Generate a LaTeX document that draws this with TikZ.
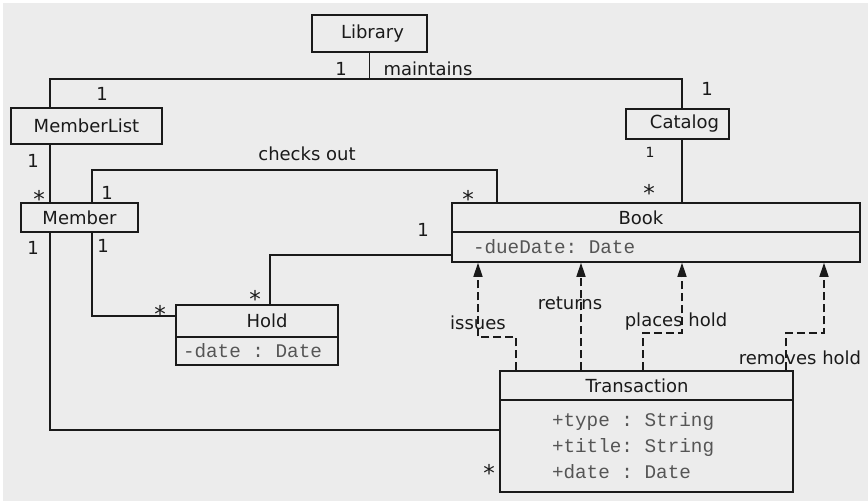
\documentclass[tikz,border=0pt]{standalone}
\usepackage{fontspec}
\setmainfont{DejaVu Sans}
\newfontfamily\monof{Liberation Mono}
\newcommand\msp{\hspace*{0.6em}}
\usetikzlibrary{arrows.meta}
\definecolor{bgc}{HTML}{ECECEC}
\definecolor{linec}{HTML}{1A1A1A}
\definecolor{monoc}{HTML}{555555}
\tikzset{
  cls/.style={draw=linec, line width=1.5pt, fill=bgc, inner sep=0pt, font=\fontsize{18}{20}\selectfont, text=linec},
  attr/.style={draw=linec, line width=1.5pt, fill=bgc, align=left, font=\monof\fontsize{19.3}{26}\selectfont, text=monoc},
  assoc/.style={draw=linec, line width=1.5pt},
  dep/.style={draw=linec, line width=1.5pt, dash pattern=on 8pt off 4pt, -{Triangle[length=14pt,width=9pt]}},
  lbl/.style={inner sep=0pt, font=\fontsize{18}{20}\selectfont, text=linec},
  smalllbl/.style={inner sep=0pt, font=\fontsize{14}{16}\selectfont, text=linec},
  mstar/.style={inner sep=0pt, font=\fontsize{23}{25}\selectfont, text=linec, yshift=-6pt},
}
\begin{document}
\begin{tikzpicture}[x=1pt,y=-1pt]
\fill[white] (0,0) rectangle (868,501);
\fill[bgc] (3,3) rectangle (868,501);
\useasboundingbox (0,0) rectangle (868,501);

% classes
\node[cls, minimum width=115, minimum height=37] (library) at (369.5,33.5) {\hspace{6pt}Library};
\node[cls, minimum width=151, minimum height=36] (memberlist) at (86.5,126) {MemberList};
\node[cls, minimum width=103, minimum height=30] (catalog) at (677.5,124) {\hspace{14pt}Catalog};
\node[cls, minimum width=117, minimum height=29] (member) at (79.5,217.5) {Member};
\node[cls, minimum width=408, minimum height=29] (book) at (656,217.5) {Book\kern30pt};
\node[attr, minimum width=408, minimum height=30, inner xsep=21pt, inner ysep=0pt, text width=366pt] (bookattr) at (656,247) {-dueDate:\msp{}Date};
\node[cls, minimum width=162, minimum height=32] (hold) at (257,321) {\hspace{20pt}Hold};
\node[attr, minimum width=162, minimum height=28, inner xsep=7pt, inner ysep=0pt, text width=148pt] (holdattr) at (257,351) {-date\msp{}:\msp{}Date};
\node[cls, minimum width=293, minimum height=29] (transaction) at (646.5,385.5) {Transaction\kern19pt};
\node[attr, minimum width=293, minimum height=92, inner xsep=52pt, inner ysep=0pt, text width=189pt] (transattr) at (646.5,446) {+type\msp{}:\msp{}String\\+title:\msp{}String\\+date\msp{}:\msp{}Date};

% helper coordinates
\coordinate (mL) at (50,79);
\coordinate (mR) at (682,79);
\coordinate (cA) at (92,170);
\coordinate (cB) at (497,170);
\coordinate (hA) at (92,316);
\coordinate (hB) at (270,255);
\coordinate (tA) at (50,430);
\coordinate (d1a) at (516,337);
\coordinate (d1b) at (478,337);
\coordinate (rR) at (581,300);
\coordinate (p1) at (643,333);
\coordinate (p2) at (682,333);
\coordinate (q1) at (786,333);
\coordinate (q2) at (824,333);

% associations
\draw[assoc] (library.south) -- (library.south |- mL);
\draw[assoc] (memberlist.north -| mL) -- (mL) -- (mR) -- (catalog.north -| mR);
\draw[assoc] (memberlist.south -| mL) -- (member.north -| mL);
\draw[assoc] (catalog.south -| mR) -- (book.north -| mR);
\draw[assoc] (member.north -| cA) -- (cA) -- (cB) -- (book.north -| cB);
\draw[assoc] (member.south -| hA) -- (hA) -- (holdattr.west |- hA);
\draw[assoc] (hold.north -| hB) -- (hB) -- (bookattr.west |- hB);
\draw[assoc] (member.south -| tA) -- (tA) -- (transattr.west |- tA);

% dependencies
\draw[dep] (transaction.north -| d1a) -- (d1a) -- (d1b) -- (bookattr.south -| d1b);
\draw[dep] (transaction.north -| rR) -- (bookattr.south -| rR);
\draw[dep] (transaction.north -| p1) -- (p1) -- (p2) -- (bookattr.south -| p2);
\draw[dep] (transaction.north -| q1) -- (q1) -- (q2) -- (bookattr.south -| q2);

% labels
\node[lbl] (l1) at (341,69) {1};
\node[lbl] (lmaint) at (428,69) {maintains};
\node[lbl] (l2) at (102,94) {1};
\node[lbl] (l3) at (707,89) {1};
\node[lbl] (l4) at (33,161) {1};
\node[mstar] (s1) at (39,193) {*};
\node[smalllbl] (l5) at (650,152) {1};
\node[mstar] (s2) at (649,187) {*};
\node[lbl] (lchk) at (307,154) {checks out};
\node[lbl] (l6) at (107,193) {1};
\node[mstar] (s3) at (468,193) {*};
\node[lbl] (l7) at (103,246) {1};
\node[mstar] (s4) at (160,308) {*};
\node[lbl] (l8) at (423,230) {1};
\node[mstar] (s5) at (255,293) {*};
\node[lbl] (l9) at (33,248) {1};
\node[mstar] (s6) at (489,467) {*};
\node[lbl] (liss) at (478,323) {issues};
\node[lbl] (lret) at (570,303) {returns};
\node[lbl] (lpla) at (676,322) {places hold};
\node[lbl] (lrem) at (800,358) {removes hold};
\end{tikzpicture}
\end{document}
